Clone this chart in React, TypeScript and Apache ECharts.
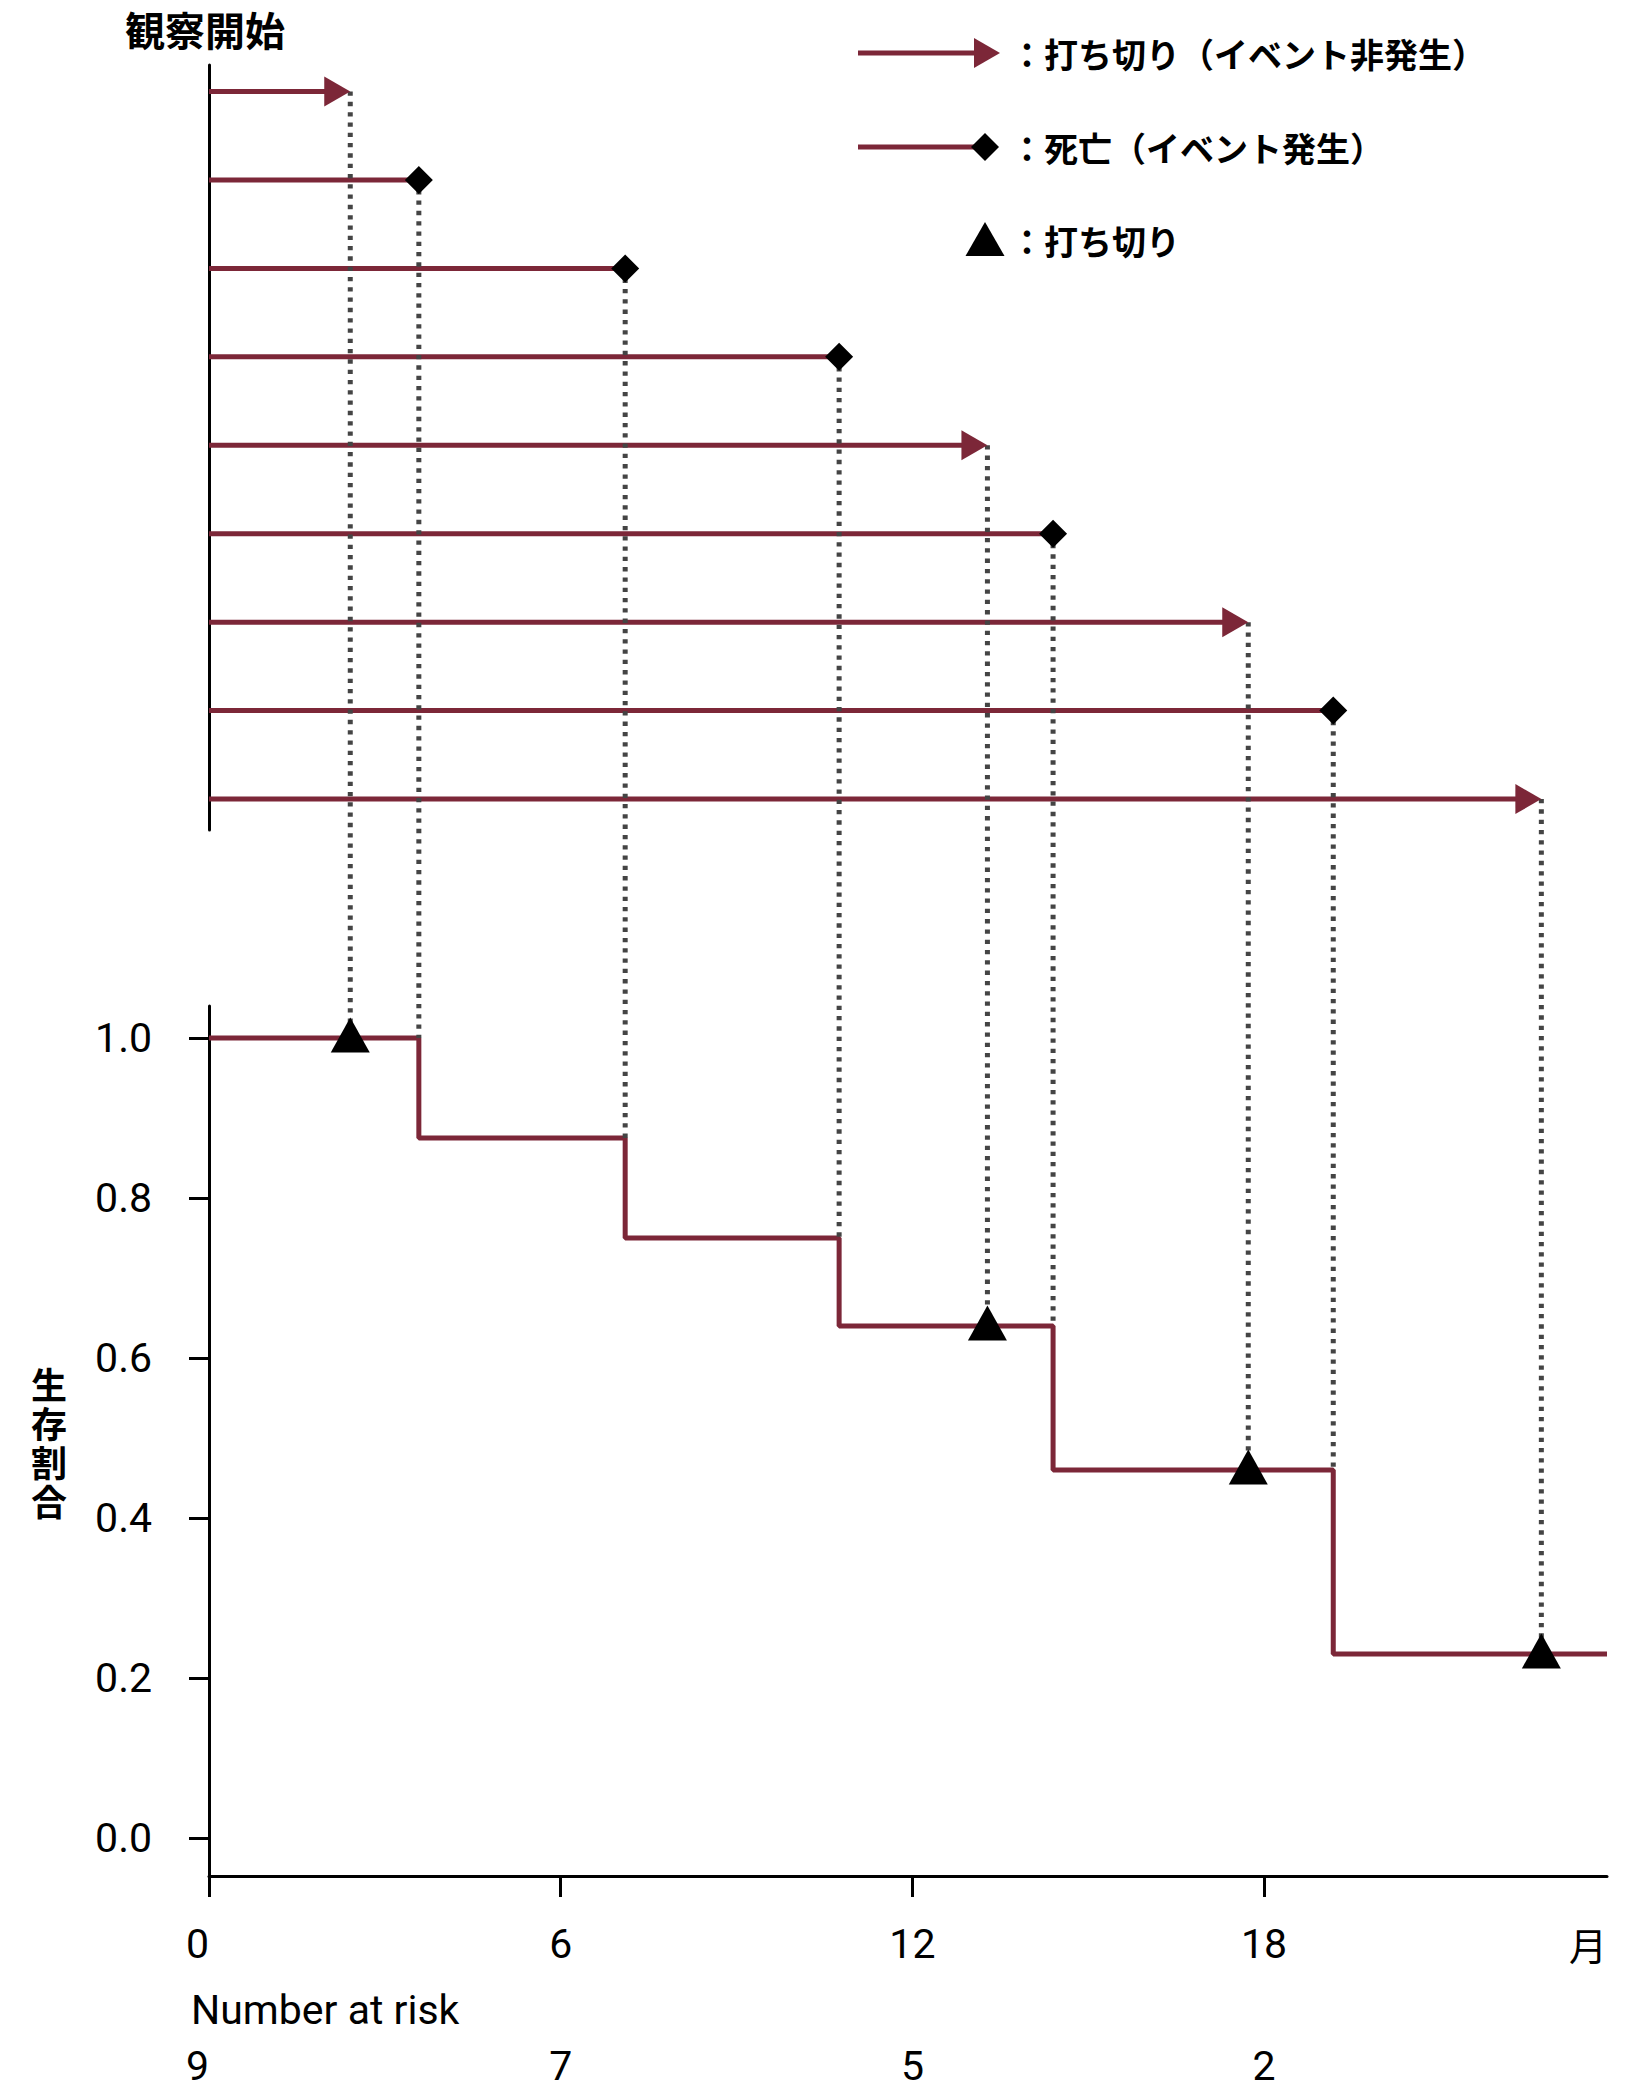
import React, { useEffect, useRef } from 'react';
import * as echarts from 'echarts';

// ---------- data ----------
const subjectTimes = [2.41, 3.58, 7.1, 10.75, 13.28, 14.4, 17.73, 19.18, 22.73]; // months
const subjectDied = [0, 1, 1, 1, 0, 1, 0, 1, 0]; // 1 = death (event), 0 = censored
const kmTimes = [0, 3.58, 7.1, 10.75, 14.4, 19.18];
const kmSurvival = [1.0, 0.875, 0.75, 0.64, 0.46, 0.23];
const monthTicks = [0, 6, 12, 18];
const survivalTicks = [0, 0.2, 0.4, 0.6, 0.8, 1.0];
const riskTimes = [0, 6, 12, 18];
const riskCounts = [9, 7, 5, 2];
const X_MAX = 23.85;

// ---------- style ----------
const RED = '#7c2738';
const DOT = '#444444';
const JP = '"Noto Sans CJK JP", "Noto Sans CJK SC", sans-serif';
const NUM = 'Roboto, "Noto Sans", sans-serif';

// survival level at time t (strict: value just before t)
function survAt(t: number, strict: boolean): number {
  let s = kmSurvival[0];
  for (let i = 0; i < kmTimes.length; i++) {
    if (strict ? kmTimes[i] < t : kmTimes[i] <= t) s = kmSurvival[i];
  }
  return s;
}

const rowData = subjectTimes.map((t, i) => [t, i + 1, subjectDied[i]]);
const kmData = kmTimes
  .map((t, i) => [t, kmSurvival[i]])
  .concat([[X_MAX, kmSurvival[kmSurvival.length - 1]]]);
const censorData = subjectTimes
  .map((t, i) => ({ t, d: subjectDied[i] }))
  .filter((o) => o.d === 0)
  .map((o) => [o.t, survAt(o.t, false)]);

const axisLineStyle = { color: '#000', width: 3 };
const numLabel = { fontSize: 41, lineHeight: 41, color: '#000', fontFamily: NUM };

function buildOption(): any {
  return {
    animation: false,
    tooltip: { show: false },
    title: {
      text: '観察開始',
      left: 125,
      top: 9,
      padding: 0,
      textStyle: { fontSize: 40, lineHeight: 40, fontWeight: 'bold', color: '#000', fontFamily: JP },
    },
    grid: [
      { left: 209, top: 65, width: 1398, height: 765, outerBoundsMode: 'none', containLabel: false },
      { left: 209, top: 1006, width: 1398, height: 870, outerBoundsMode: 'none', containLabel: false },
    ],
    xAxis: [
      { gridIndex: 0, type: 'value', min: 0, max: X_MAX, show: false },
      {
        gridIndex: 1,
        type: 'value',
        min: 0,
        max: X_MAX,
        axisLine: { show: true, onZero: false, lineStyle: axisLineStyle },
        axisTick: { show: true, length: 21, customValues: monthTicks, lineStyle: axisLineStyle },
        axisLabel: {
          ...numLabel,
          customValues: monthTicks,
          margin: 47,
          alignMinLabel: 'right',
          formatter: (v: number) => String(v),
        },
        splitLine: { show: false },
        name: '月',
        nameLocation: 'end',
        nameGap: 0,
        nameMoveOverlap: false,
        nameTextStyle: {
          align: 'right',
          verticalAlign: 'top',
          padding: [47, 0, 0, 0],
          fontSize: 38,
          lineHeight: 41,
          color: '#000',
          fontFamily: JP,
        },
      },
      {
        gridIndex: 1,
        type: 'value',
        min: 0,
        max: X_MAX,
        position: 'bottom',
        offset: 123,
        axisLine: { show: false },
        axisTick: { show: false },
        splitLine: { show: false },
        axisLabel: {
          ...numLabel,
          lineHeight: 34,
          customValues: riskTimes,
          margin: 50,
          alignMinLabel: 'right',
          formatter: (v: number) => String(riskCounts[riskTimes.indexOf(v)]),
        },
      },
    ],
    yAxis: [
      {
        gridIndex: 0,
        type: 'value',
        min: 0.7,
        max: 9.35,
        inverse: true,
        axisLine: { show: true, lineStyle: axisLineStyle },
        axisTick: { show: false },
        axisLabel: { show: false },
        splitLine: { show: false },
      },
      {
        gridIndex: 1,
        type: 'value',
        min: -0.0475,
        max: 1.04,
        axisLine: { show: true, onZero: false, lineStyle: axisLineStyle },
        axisTick: { show: true, length: 20, customValues: survivalTicks, lineStyle: axisLineStyle },
        axisLabel: {
          ...numLabel,
          customValues: survivalTicks,
          margin: 57,
          formatter: (v: number) => v.toFixed(1),
        },
        splitLine: { show: false },
        name: '生\n存\n割\n合',
        nameLocation: 'middle',
        nameRotate: 0,
        nameGap: 142,
        nameMoveOverlap: false,
        nameTextStyle: { fontSize: 36, lineHeight: 39, fontWeight: 'bold', color: '#000', fontFamily: JP },
      },
    ],
    series: [
      // observation lines
      {
        type: 'custom',
        xAxisIndex: 0,
        yAxisIndex: 0,
        z: 2,
        silent: true,
        clip: false,
        data: rowData,
        renderItem: (params: any, api: any) => {
          const t = api.value(0);
          const r = api.value(1);
          const died = api.value(2) === 1;
          const p0 = api.coord([0, r]);
          const p1 = api.coord([t, r]);
          const x2 = died ? p1[0] : p1[0] - 22;
          return {
            type: 'line',
            shape: { x1: p0[0], y1: p0[1], x2, y2: p1[1] },
            style: { stroke: RED, lineWidth: 5 },
          };
        },
      },
      // end markers (arrow head / diamond)
      {
        type: 'custom',
        xAxisIndex: 0,
        yAxisIndex: 0,
        z: 5,
        silent: true,
        clip: false,
        data: rowData,
        renderItem: (params: any, api: any) => {
          const t = api.value(0);
          const r = api.value(1);
          const died = api.value(2) === 1;
          const p = api.coord([t, r]);
          if (died) {
            return {
              type: 'polygon',
              shape: {
                points: [
                  [p[0], p[1] - 14],
                  [p[0] + 14, p[1]],
                  [p[0], p[1] + 14],
                  [p[0] - 14, p[1]],
                ],
              },
              style: { fill: '#000', opacity: 1 },
            };
          }
          return {
            type: 'polygon',
            shape: {
              points: [
                [p[0] - 26, p[1] - 15],
                [p[0], p[1]],
                [p[0] - 26, p[1] + 15],
              ],
            },
            style: { fill: RED, opacity: 1 },
          };
        },
      },
      // Kaplan-Meier curve
      {
        type: 'line',
        xAxisIndex: 1,
        yAxisIndex: 1,
        step: 'end',
        symbol: 'none',
        silent: true,
        z: 2,
        lineStyle: { color: RED, width: 5 },
        data: kmData,
      },
      // censor marks
      {
        type: 'scatter',
        xAxisIndex: 1,
        yAxisIndex: 1,
        symbol: 'triangle',
        symbolSize: [39, 35],
        symbolOffset: [0, -3],
        silent: true,
        z: 5,
        itemStyle: { color: '#000', opacity: 1 },
        data: censorData,
      },
    ],
  };
}

function legendGraphics(): any[] {
  const textStyle = (text: string) => ({
    text,
    fill: '#000',
    fontSize: 34,
    fontWeight: 'bold',
    fontFamily: JP,
    align: 'left',
    verticalAlign: 'middle',
  });
  return [
    // censored arrow
    { type: 'line', shape: { x1: 858, y1: 53, x2: 978, y2: 53 }, style: { stroke: RED, lineWidth: 5 }, z: 10 },
    { type: 'polygon', shape: { points: [[974, 38], [1000, 53], [974, 68]] }, style: { fill: RED }, z: 10 },
    { type: 'text', x: 1010, y: 53, style: textStyle('：打ち切り（イベント非発生）'), z: 10 },
    // death diamond
    { type: 'line', shape: { x1: 858, y1: 147, x2: 980, y2: 147 }, style: { stroke: RED, lineWidth: 5 }, z: 10 },
    {
      type: 'polygon',
      shape: { points: [[985, 133], [999, 147], [985, 161], [971, 147]] },
      style: { fill: '#000' },
      z: 10,
    },
    { type: 'text', x: 1010, y: 147, style: textStyle('：死亡（イベント発生）'), z: 10 },
    // censor triangle
    {
      type: 'polygon',
      shape: { points: [[985, 222], [1004.5, 256], [965.5, 256]] },
      style: { fill: '#000' },
      z: 10,
    },
    { type: 'text', x: 1010, y: 240, style: textStyle('：打ち切り'), z: 10 },
    // number at risk heading
    {
      type: 'text',
      x: 191,
      y: 2010,
      style: {
        text: 'Number at risk',
        fill: '#000',
        fontSize: 41,
        fontFamily: NUM,
        align: 'left',
        verticalAlign: 'middle',
      },
      z: 10,
    },
  ];
}

export default function App() {
  const ref = useRef<HTMLDivElement>(null);
  useEffect(() => {
    if (!ref.current) return;
    const chart = echarts.init(ref.current, null, { renderer: 'svg' });
    chart.setOption(buildOption());

    const connectors = subjectTimes.map((t, i) => {
      const died = subjectDied[i] === 1;
      const top = chart.convertToPixel({ gridIndex: 0 }, [t, i + 1]) as number[];
      const bot = chart.convertToPixel({ gridIndex: 1 }, [t, survAt(t, died)]) as number[];
      return {
        type: 'line',
        z: 3,
        silent: true,
        shape: { x1: top[0], y1: top[1], x2: bot[0], y2: bot[1] },
        style: { stroke: DOT, lineWidth: 5, lineDash: [4.3, 6] },
      };
    });
    chart.setOption({ graphic: [...legendGraphics(), ...connectors] });
    return () => chart.dispose();
  }, []);
  return (
    <div
      ref={ref}
      style={{ position: 'absolute', left: 0, top: 0, width: 1640, height: 2090 }}
    />
  );
}
